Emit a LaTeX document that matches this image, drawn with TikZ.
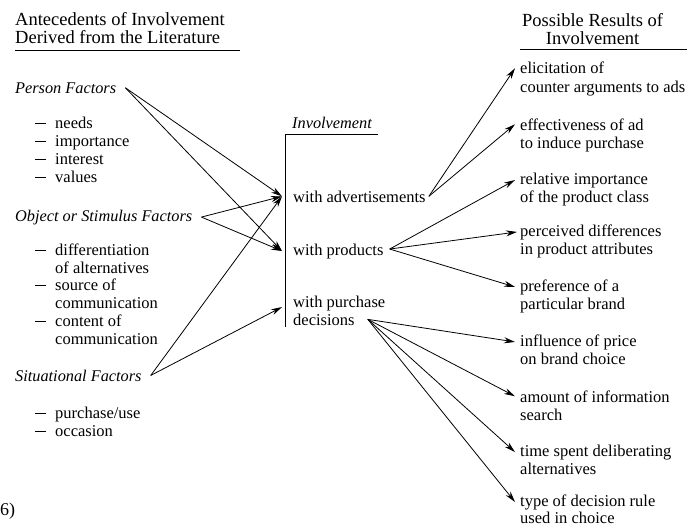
\documentclass[tikz,border=0pt]{standalone}
\usepackage{fontspec}
\setmainfont{Liberation Serif}
\usepackage{tikz}
\usetikzlibrary{arrows.meta,positioning}
\newcommand{\itemdash}{\makebox[20pt][l]{\rule[0.27em]{11pt}{0.9pt}}}
\tikzset{
    txt/.style={
        anchor=base west,
        inner sep=0pt,
        font=\fontsize{16.5}{18}\selectfont
    },
    factor/.style={
        txt,
        font=\fontsize{16.3}{18}\selectfont\itshape
    },
    heading/.style={
        txt,
        font=\fontsize{18.5}{20}\selectfont
    },
    arrow/.style={
        -{Stealth[length=11pt,width=6pt]},
        line width=0.8pt,
        color=black
    }
}
\begin{document}
\begin{tikzpicture}[x=1pt,y=-1pt]
    \useasboundingbox (0,0) rectangle (687,527);

    % Headings
    \node[heading] (antec) at (15,26) {Antecedents of Involvement};
    \node[heading] (derived) at (15,44) {Derived from the Literature};
    \draw[line width=0.8pt] ([yshift=-6pt]derived.base west) -- ++(225,0);
    \node[heading] (possible) at (522,27) {Possible Results of};
    \node[heading, anchor=base] (resinv) at ([yshift=-18pt]possible.base) {Involvement};
    \draw[line width=0.8pt] (520,49) -- (687,49);

    % Person factors
    \node[factor] (person) at (15,93) {Person Factors};
    \node[txt] (needs) at (35,128) {\itemdash needs};
    \node[txt] (importance) at (35,146) {\itemdash importance};
    \node[txt] (interest) at (35,164) {\itemdash interest};
    \node[txt] (values) at (35,182) {\itemdash values};

    % Object or stimulus factors
    \node[factor] (object) at (15,221) {Object or Stimulus Factors};
    \node[txt] (diff) at (35,255) {\itemdash differentiation};
    \node[txt] (diffb) at (55,273) {of alternatives};
    \node[txt] (source) at (35,290) {\itemdash source of};
    \node[txt] (sourceb) at (55,308) {communication};
    \node[txt] (content) at (35,326) {\itemdash content of};
    \node[txt] (contentb) at (55,344) {communication};

    % Situational factors
    \node[factor] (situ) at (15,381) {Situational Factors};
    \node[txt] (purchuse) at (35,418) {\itemdash purchase/use};
    \node[txt] (occasion) at (35,436) {\itemdash occasion};

    \node[txt, font=\fontsize{18}{20}\selectfont] (six) at (0,515) {6)};

    % Involvement
    \node[factor] (invol) at (292,128) {Involvement};
    \draw[line width=0.8pt] (378,134) -- (285,134) -- (285,327);
    \node[txt] (adv) at (293,202) {with advertisements};
    \node[txt] (prod) at (293,255) {with products};
    \node[txt] (purch) at (293,307) {with purchase};
    \node[txt] (dec) at (293,325) {decisions};

    % Possible results
    \node[txt] (elic) at (520,74) {elicitation of};
    \node[txt] (elicb) at (520,92) {counter arguments to ads};
    \node[txt] (effect) at (520,130) {effectiveness of ad};
    \node[txt] (effectb) at (520,148) {to induce purchase};
    \node[txt] (relimp) at (520,184) {relative importance};
    \node[txt] (relimpb) at (520,202) {of the product class};
    \node[txt] (percv) at (520,236) {perceived differences};
    \node[txt] (percvb) at (520,254) {in product attributes};
    \node[txt] (pref) at (520,291) {preference of a};
    \node[txt] (prefb) at (520,309) {particular brand};
    \node[txt] (price) at (520,346) {influence of price};
    \node[txt] (priceb) at (520,364) {on brand choice};
    \node[txt] (amount) at (520,402) {amount of information};
    \node[txt] (amountb) at (520,420) {search};
    \node[txt] (time) at (520,456) {time spent deliberating};
    \node[txt] (timeb) at (520,474) {alternatives};
    \node[txt] (rule) at (520,506) {type of decision rule};
    \node[txt] (ruleb) at (520,523) {used in choice};

    % Antecedents -> involvement
    \draw[arrow] ([xshift=9pt]person.east) -- ([xshift=-11pt]adv.west);
    \draw[arrow] ([xshift=9pt]person.east) -- ([xshift=-11pt]prod.west);
    \draw[arrow] ([xshift=9pt]object.east) -- ([xshift=-11pt]adv.west);
    \draw[arrow] ([xshift=9pt]object.east) -- ([xshift=-11pt]prod.west);
    \draw[arrow] ([xshift=9pt]situ.east) -- ([xshift=-11pt]adv.west);
    \draw[arrow] ([xshift=9pt]situ.east) -- ([xshift=-11pt,yshift=-4pt]purch.west);

    % Involvement -> results
    \draw[arrow] ([xshift=3pt]adv.east) -- ([xshift=-5pt]elic.west);
    \draw[arrow] ([xshift=3pt]adv.east) -- ([xshift=-5pt]effect.west);
    \draw[arrow] ([xshift=6pt,yshift=2pt]prod.east) -- ([xshift=-5pt]relimp.west);
    \draw[arrow] ([xshift=6pt,yshift=2pt]prod.east) -- ([xshift=-3pt]percv.west);
    \draw[arrow] ([xshift=6pt,yshift=2pt]prod.east) -- ([xshift=-5pt]pref.west);
    \draw[arrow] ([xshift=13pt]dec.east) -- ([xshift=-5pt]price.west);
    \draw[arrow] ([xshift=13pt]dec.east) -- ([xshift=-5pt]amount.west);
    \draw[arrow] ([xshift=13pt]dec.east) -- ([xshift=-5pt]time.west);
    \draw[arrow] ([xshift=13pt]dec.east) -- ([xshift=-5pt]rule.west);
\end{tikzpicture}
\end{document}
